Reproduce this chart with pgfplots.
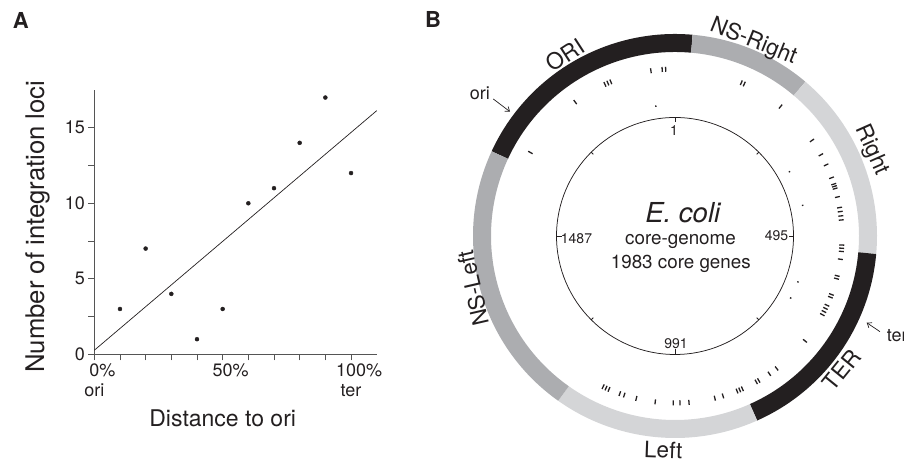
\documentclass[border=0pt]{standalone}
\usepackage{fontspec}
\setmainfont{TeX Gyre Heros}
\usepackage{pgfplots}
\pgfplotsset{compat=1.18}
\usepackage{pgfplotstable}
\usetikzlibrary{arrows.meta}
\definecolor{ink}{HTML}{231F20}
\definecolor{midgray}{HTML}{ACADB0}
\definecolor{ltgray}{HTML}{D4D5D7}
\definecolor{axgray}{HTML}{555555}

% gene positions (bearing in degrees, clockwise from gene 1 at top; r = inner radius of mark, len = mark length)
\pgfplotstableread{
b r len
300.0 164.5 5
323.3 164.5 5
335.2 164.5 5
336.3 164.5 5
337.4 164.5 5
351.7 164.5 5
355.6 164.5 5
356.8 164.5 5
23.4 164.5 5
24.5 164.5 5
39.2 164.5 5
55.1 164.5 5
60.9 164.5 5
64.8 164.5 5
69.6 164.5 5
71.9 164.5 5
72.7 164.5 5
73.5 164.5 5
76.5 164.5 5
80.2 164.5 5
81.6 164.5 5
83.1 164.5 5
84.5 164.5 5
93.1 164.5 5
94.2 164.5 5
95.3 164.5 5
98.0 164.5 5
103.8 164.5 5
104.8 164.5 5
110.5 164.5 5
111.5 164.5 5
114.5 164.5 5
115.7 164.5 5
116.9 164.5 5
118.1 164.5 5
128.9 164.5 5
142.5 164.5 5
145.6 164.5 5
149.9 164.5 5
150.9 164.5 5
156.2 164.5 5
157.2 164.5 5
158.2 164.5 5
163.3 164.5 5
166.2 164.5 5
175.2 164.5 5
178.3 164.5 5
180.6 164.5 5
186.8 164.5 5
193.4 164.5 5
197.7 164.5 5
199.3 164.5 5
203.3 164.5 5
204.4 164.5 5
205.5 164.5 5
351.6 130.5 1.5
60.7 130.5 1.5
76.5 130.5 1.5
110.5 130.5 1.5
118.2 130.5 1.5
}\genes

% inner circle ticks (pointing inwards)
\pgfplotstableread{
b r len
0 118.5 5
45 118.5 3
90 118.5 5
135 118.5 3
180 118.5 5
225 118.5 3
270 118.5 5
315 118.5 3
}\cticks

\newcommand\ringseg[3]{\draw[#1, line width=18pt] (axis cs:{193*sin(#2)},{193*cos(#2)}) arc[start angle={90-#2}, end angle={90-#3}, radius=193pt];}

\begin{document}
\begin{tikzpicture}
% ---------------- Panel A ----------------
\begin{axis}[
  at={(94.3pt,107.7pt)}, anchor=south west,
  scale only axis, width=282.4pt, height=264.3pt,
  xmin=0, xmax=110, ymin=0, ymax=17.5,
  axis lines=left,
  axis line style={-, draw=axgray, line width=0.8pt},
  tick style={draw=axgray, line width=0.8pt},
  tick align=outside, major tick length=6pt,
  xtick={0,10,...,100},
  xticklabels={{0\rlap{\%}\\ori},,,,,{50\rlap{\%}},,,,,{100\rlap{\%}\\ter}},
  ytick={0,2.5,5,7.5,10,12.5,15},
  yticklabels={0,,5,,10,,15},
  xticklabel style={align=center, font=\fontsize{18}{20}\selectfont, text=ink},
  yticklabel style={font=\fontsize{18}{20}\selectfont, text=ink},
  xlabel={\fontsize{23}{26}\selectfont Distance to ori},
  ylabel={\fontsize{25.7}{28}\selectfont Number of integration loci},
  xlabel style={at={(axis description cs:0.4547,-0.274)}, anchor=base, inner sep=0pt, text=ink},
  ylabel style={at={(axis description cs:-0.157,0.483)}, anchor=south, inner sep=0pt, text=ink},
  clip=false,
]
\addplot[only marks, mark=*, mark size=2pt, ink] coordinates {
  (10,3) (20,7) (30,4) (40,1) (50,3) (60,10) (70,11) (80,14) (90,17) (100,12)
};
\addplot[ink, line width=0.7pt] coordinates {(0,0.267) (110,16.13)};
\end{axis}

% ---------------- Panel B ----------------
\begin{axis}[
  at={(675pt,226pt)}, anchor=center,
  x=1pt, y=1pt,
  xmin=-230, xmax=230, ymin=-236, ymax=236,
  hide axis, clip=false, no markers,
]
\ringseg{ink}{294.8}{365}
\ringseg{midgray}{5}{40.2}
\ringseg{ltgray}{40.2}{95.1}
\ringseg{ink}{95.1}{156}
\ringseg{ltgray}{156}{215.3}
\ringseg{midgray}{215.3}{294.8}

\draw[ink, line width=0.75pt] (axis cs:0,0) circle[radius=118.5pt];

\addplot[ink, line width=1.3pt, -,
  quiver={u={\thisrow{len}*sin(\thisrow{b})}, v={\thisrow{len}*cos(\thisrow{b})}}]
  table[x expr={\thisrow{r}*sin(\thisrow{b})}, y expr={\thisrow{r}*cos(\thisrow{b})}] {\genes};
\addplot[ink, line width=0.75pt, -,
  quiver={u={-\thisrow{len}*sin(\thisrow{b})}, v={-\thisrow{len}*cos(\thisrow{b})}}]
  table[x expr={\thisrow{r}*sin(\thisrow{b})}, y expr={\thisrow{r}*cos(\thisrow{b})}] {\cticks};

% ring labels
\begin{scope}[every node/.style={text=ink, font=\fontsize{22.5}{25}\selectfont, inner sep=0pt}]
\node[rotate=33] at (axis cs:-110,181) {ORI};
\node[rotate=-22] at (axis cs:78.3,194.3) {NS-Right};
\node[rotate=-66] at (axis cs:196.7,86) {Right};
\node[rotate=51] at (axis cs:166.7,-134) {TER};
\node[rotate=-2] at (axis cs:-11.7,-214) {Left};
\node[rotate=103] at (axis cs:-201.7,-52.3) {NS-Left};
\end{scope}

% centre text
\node[anchor=base, text=ink, inner sep=0pt, font=\fontsize{27.5}{30}\selectfont\itshape] at (axis cs:7.8,13.3) {E. coli};
\node[anchor=base, text=ink, inner sep=0pt, font=\fontsize{18.8}{21}\selectfont] at (axis cs:5.5,-9) {core-genome};
\node[anchor=base, text=ink, inner sep=0pt, font=\fontsize{18.8}{21}\selectfont] at (axis cs:5.8,-32.3) {1983 core genes};

% circle numbers
\begin{scope}[every node/.style={text=ink, font=\fontsize{14}{16}\selectfont, inner sep=0pt}]
\node[anchor=base] at (axis cs:-1,100) {1};
\node[anchor=base east] at (axis cs:113.3,-4.7) {495};
\node[anchor=base] at (axis cs:1,-112.3) {991};
\node[anchor=base west] at (axis cs:-114.3,-7.3) {1487};
\end{scope}

% ori / ter pointers
\node[anchor=base east, text=ink, inner sep=0pt, font=\fontsize{18}{20}\selectfont] at (axis cs:-185,136) {ori};
\draw[ink, line width=0.7pt, -{Straight Barb[length=4pt,width=6pt]}] (axis cs:-181.7,137) -- (axis cs:-165,124.3);
\node[anchor=base west, text=ink, inner sep=0pt, font=\fontsize{18}{20}\selectfont] at (axis cs:211.7,-105.7) {ter};
\draw[ink, line width=0.7pt, -{Straight Barb[length=4pt,width=6pt]}] (axis cs:205,-95.7) -- (axis cs:191.7,-86.7);
\end{axis}

% panel letters
\node[anchor=base west, inner sep=0pt, text=ink, font=\fontsize{22}{24}\selectfont\bfseries] at (12.7pt,433.7pt) {A};
\node[anchor=base west, inner sep=0pt, text=ink, font=\fontsize{22}{24}\selectfont\bfseries] at (425pt,434pt) {B};

\pgfresetboundingbox
\useasboundingbox (0,0) rectangle (904pt,462pt);
\end{tikzpicture}
\end{document}
